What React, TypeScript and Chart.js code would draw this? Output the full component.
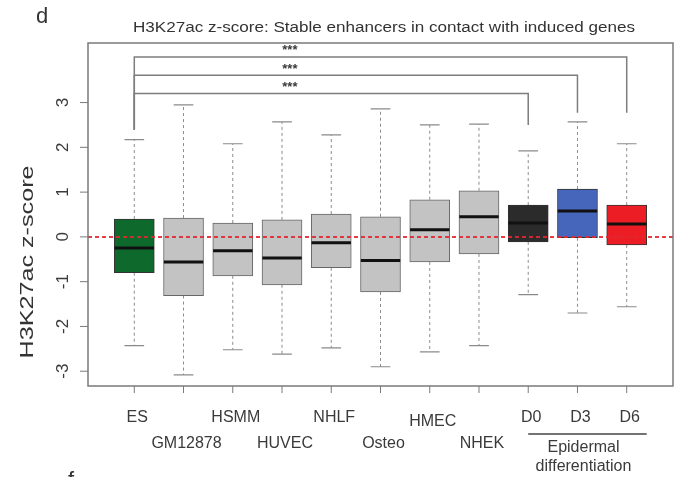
import React, { useEffect, useRef } from "react";
import { Chart, registerables } from "chart.js";

Chart.register(...registerables);

const categories = ["ES", "GM12878", "HSMM", "HUVEC", "NHLF", "Osteo", "HMEC", "NHEK", "D0", "D3", "D6"];
const whiskerLow = [-2.43, -3.08, -2.52, -2.62, -2.48, -2.9, -2.57, -2.43, -1.29, -1.7, -1.56];
const q1 = [-0.8, -1.31, -0.87, -1.07, -0.69, -1.23, -0.56, -0.38, -0.11, -0.02, -0.18];
const median = [-0.25, -0.56, -0.31, -0.47, -0.13, -0.53, 0.16, 0.45, 0.31, 0.58, 0.29];
const q3 = [0.4, 0.42, 0.31, 0.38, 0.51, 0.45, 0.83, 1.03, 0.71, 1.07, 0.71];
const whiskerHigh = [2.17, 2.95, 2.08, 2.57, 2.28, 2.86, 2.5, 2.52, 1.92, 2.57, 2.08];
const boxColors = ["#0e6a2c", "#c3c3c3", "#c3c3c3", "#c3c3c3", "#c3c3c3", "#c3c3c3", "#c3c3c3", "#c3c3c3", "#2b2b2b", "#4566ba", "#ec1d25"];

const yTicks = [-3, -2, -1, 0, 1, 2, 3];
// significance brackets: from ES (position 1) to target position
const bracketTargets = [11, 10, 9];
const bracketLevels = [4.02, 3.61, 3.2];
const bracketDrops = [2.77, 2.77, 2.5];
const bracketStart = 1;
const bracketStartDrop = 2.39;
const bracketLabels = ["***", "***", "***"];
const starPosition = 4.16;

const title = "H3K27ac z-score: Stable enhancers in contact with induced genes";
const yTitle = "H3K27ac z-score";
const groupLabel = ["Epidermal", "differentiation"];

// label row layout (pixels below the axis)
const labelRowOffset = [32, 58, 32, 58, 32, 58, 36, 58, 32, 32, 32];

const X_MIN = 0.06;
const X_MAX = 11.94;
const Y_MIN = -3.33;
const Y_MAX = 4.33;

function segs(fn: (i: number) => { x: number; y: number }[]) {
  const out: any[] = [];
  categories.forEach((_, i) => {
    out.push(...fn(i));
    out.push({ x: i + 1, y: null });
  });
  return out;
}

function fitText(ctx: CanvasRenderingContext2D, text: string, x: number, y: number, width: number, rot = 0) {
  const w = ctx.measureText(text).width;
  ctx.save();
  ctx.translate(x, y);
  if (rot) ctx.rotate(rot);
  ctx.scale(width / w, 1);
  ctx.textAlign = "center";
  ctx.textBaseline = "middle";
  ctx.fillText(text, 0, 0);
  ctx.restore();
}

const decorPlugin = {
  id: "decor",
  afterDraw(chart: any) {
    const ctx: CanvasRenderingContext2D = chart.ctx;
    const xs = chart.scales.x;
    const ys = chart.scales.y;
    const a = chart.chartArea;
    const font = '"Liberation Sans", Arial, Helvetica, sans-serif';
    ctx.save();
    // frame
    ctx.strokeStyle = "#7a7a7a";
    ctx.lineWidth = 1.5;
    ctx.strokeRect(a.left, a.top, a.right - a.left, a.bottom - a.top);
    // y ticks
    ctx.lineWidth = 1;
    ctx.fillStyle = "#3a3a3a";
    ctx.font = `17px ${font}`;
    yTicks.forEach((v) => {
      const py = ys.getPixelForValue(v);
      ctx.beginPath();
      ctx.moveTo(a.left - 8, py);
      ctx.lineTo(a.left, py);
      ctx.stroke();
      ctx.save();
      ctx.translate(a.left - 25, py);
      ctx.rotate(-Math.PI / 2);
      ctx.textAlign = "center";
      ctx.textBaseline = "middle";
      ctx.fillText(String(v), 0, 0);
      ctx.restore();
    });
    // x ticks + labels
    ctx.font = `16px ${font}`;
    categories.forEach((c, i) => {
      const px = xs.getPixelForValue(i + 1);
      ctx.beginPath();
      ctx.moveTo(px, a.bottom);
      ctx.lineTo(px, a.bottom + 7);
      ctx.stroke();
      ctx.textAlign = "center";
      ctx.textBaseline = "middle";
      ctx.fillText(c, px + 3, a.bottom + labelRowOffset[i]);
    });
    // group line
    const gx0 = xs.getPixelForValue(9);
    const gx1 = xs.getPixelForValue(11) + 20;
    ctx.strokeStyle = "#444";
    ctx.lineWidth = 1.5;
    ctx.beginPath();
    ctx.moveTo(gx0, a.bottom + 48);
    ctx.lineTo(gx1, a.bottom + 48);
    ctx.stroke();
    const gc = (gx0 + gx1) / 2 - 4;
    ctx.fillText(groupLabel[0], gc, a.bottom + 62);
    ctx.fillText(groupLabel[1], gc, a.bottom + 81);
    // stars
    ctx.font = `bold 13px ${font}`;
    bracketLevels.forEach((lv, k) => {
      ctx.fillText(bracketLabels[k], xs.getPixelForValue(starPosition), ys.getPixelForValue(lv) - 6);
    });
    // title
    ctx.fillStyle = "#333";
    ctx.font = `14px ${font}`;
    fitText(ctx, title, 384, 28, 502);
    // y title
    ctx.font = `19px ${font}`;
    fitText(ctx, yTitle, 28, 262, 193, -Math.PI / 2);
    // panel letters
    ctx.font = `22px ${font}`;
    ctx.textAlign = "left";
    ctx.textBaseline = "alphabetic";
    ctx.fillText("d", 36, 23);
    ctx.fillText("f", 68, 487);
    ctx.restore();
  },
};

export default function App() {
  const ref = useRef<HTMLCanvasElement>(null);
  useEffect(() => {
    const canvas = ref.current!;
    const dash = "#8c8c8c";
    const datasets: any[] = [
      {
        type: "bar",
        data: categories.map((_, i) => ({ x: i + 1, y: [q1[i], q3[i]] })),
        backgroundColor: boxColors,
        borderColor: boxColors.map((c) => (c === "#c3c3c3" ? "#666" : "#333")),
        borderWidth: 1,
        borderSkipped: false,
        barThickness: 40,
        order: 5,
      },
      {
        type: "line",
        data: segs((i) => [
          { x: i + 1, y: q3[i] },
          { x: i + 1, y: whiskerHigh[i] },
        ]),
        borderColor: dash,
        borderWidth: 1,
        borderDash: [3, 3],
        pointRadius: 0,
        spanGaps: false,
        order: 6,
      },
      {
        type: "line",
        data: segs((i) => [
          { x: i + 1, y: q1[i] },
          { x: i + 1, y: whiskerLow[i] },
        ]),
        borderColor: dash,
        borderWidth: 1,
        borderDash: [3, 3],
        pointRadius: 0,
        spanGaps: false,
        order: 6,
      },
      {
        type: "line",
        data: segs((i) => [
          { x: i + 1 - 0.2, y: whiskerHigh[i] },
          { x: i + 1 + 0.2, y: whiskerHigh[i] },
        ]),
        borderColor: "#8a8a8a",
        borderWidth: 1.2,
        pointRadius: 0,
        spanGaps: false,
        order: 6,
      },
      {
        type: "line",
        data: segs((i) => [
          { x: i + 1 - 0.2, y: whiskerLow[i] },
          { x: i + 1 + 0.2, y: whiskerLow[i] },
        ]),
        borderColor: "#8a8a8a",
        borderWidth: 1.2,
        pointRadius: 0,
        spanGaps: false,
        order: 6,
      },
      {
        type: "line",
        data: segs((i) => [
          { x: i + 1 - 0.4, y: median[i] },
          { x: i + 1 + 0.4, y: median[i] },
        ]),
        borderColor: "#111",
        borderWidth: 3,
        pointRadius: 0,
        spanGaps: false,
        order: 3,
      },
      {
        type: "line",
        data: [
          { x: X_MIN, y: 0 },
          { x: X_MAX, y: 0 },
        ],
        borderColor: "rgba(225,40,50,0.9)",
        borderWidth: 2,
        borderDash: [4, 3],
        pointRadius: 0,
        order: 2,
      },
      ...bracketTargets.map((t, k) => ({
        type: "line",
        data: [
          { x: bracketStart, y: bracketStartDrop },
          { x: bracketStart, y: bracketLevels[k] },
          { x: t, y: bracketLevels[k] },
          { x: t, y: bracketDrops[k] },
        ],
        borderColor: "#7d7d7d",
        borderWidth: 1.5,
        pointRadius: 0,
        order: 4,
      })),
    ];
    const chart = new Chart(canvas, {
      type: "bar",
      data: { datasets },
      options: {
        animation: false,
        responsive: false,
        maintainAspectRatio: false,
        layout: { padding: { left: 88, right: 14, top: 43, bottom: 91 } },
        plugins: { legend: { display: false }, tooltip: { enabled: false }, title: { display: false } },
        scales: {
          x: { type: "linear", min: X_MIN, max: X_MAX, offset: false, display: false },
          y: { type: "linear", min: Y_MIN, max: Y_MAX, display: false },
        },
      },
      plugins: [decorPlugin],
    });
    return () => chart.destroy();
  }, []);
  return (
    <div style={{ position: "absolute", left: 0, top: 0, width: 687, height: 477, background: "#fff" }}>
      <canvas ref={ref} width={687} height={477} style={{ display: "block" }} />
    </div>
  );
}
